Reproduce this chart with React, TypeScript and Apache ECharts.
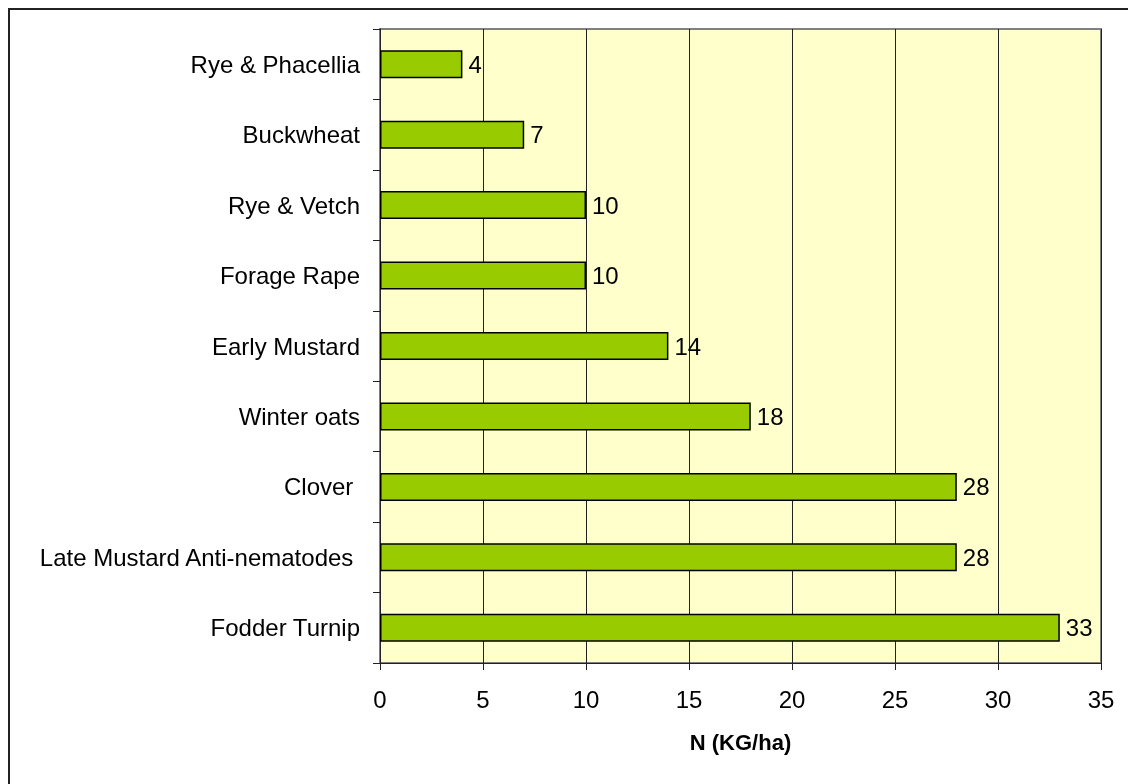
import React, { useEffect, useRef } from "react";
import * as echarts from "echarts";

// Cover crops and the nitrogen they supply
const crops = [
  "Rye & Phacellia",
  "Buckwheat",
  "Rye & Vetch",
  "Forage Rape",
  "Early Mustard",
  "Winter oats",
  "Clover ",
  "Late Mustard Anti-nematodes ",
  "Fodder Turnip",
];
const nitrogen = [4, 7, 10, 10, 14, 18, 28, 28, 33];
const xAxisTitle = "N (KG/ha)";

const FONT = "'Liberation Sans', Arial, sans-serif";

export default function App() {
  const ref = useRef<HTMLDivElement>(null);

  useEffect(() => {
    if (!ref.current) return;
    const chart = echarts.init(ref.current, undefined, { renderer: "svg" });
    chart.setOption({
      animation: false,
      textStyle: { fontFamily: FONT },
      grid: {
        left: 370,
        top: 19,
        width: 721,
        height: 634,
        show: true,
        backgroundColor: "#FFFFCC",
        borderColor: "#808080",
        borderWidth: 2,
      },
      xAxis: {
        type: "value",
        min: 0,
        max: 35,
        interval: 5,
        name: xAxisTitle,
        nameLocation: "middle",
        nameGap: 68,
        nameTextStyle: {
          fontFamily: FONT,
          fontSize: 22,
          fontWeight: "bold",
          color: "#000",
        },
        axisLine: { show: true, lineStyle: { color: "#222", width: 1 } },
        axisTick: { show: true, length: 7, lineStyle: { color: "#222" } },
        axisLabel: { fontFamily: FONT, fontSize: 24, color: "#000", margin: 24 },
        splitLine: { show: true, lineStyle: { color: "#222", width: 1 } },
      },
      yAxis: {
        type: "category",
        data: crops,
        inverse: true,
        axisLine: { show: true, lineStyle: { color: "#222", width: 1 } },
        axisTick: { show: true, length: 7, lineStyle: { color: "#222" } },
        axisLabel: { fontFamily: FONT, fontSize: 24, color: "#000", margin: 20 },
        splitLine: { show: false },
      },
      series: [
        {
          type: "bar",
          data: nitrogen,
          barWidth: 28,
          itemStyle: { color: "#99CC00", borderColor: "#000", borderWidth: 1.5 },
          label: {
            show: true,
            position: "right",
            distance: 6,
            fontFamily: FONT,
            fontSize: 24,
            color: "#000",
          },
        },
      ],
    });
    return () => chart.dispose();
  }, []);

  return (
    <div style={{ position: "relative", width: 1112, height: 768, background: "#fff" }}>
      {/* frame around the chart; its right and bottom sides fall outside the page */}
      <div
        style={{
          position: "fixed",
          left: 8,
          top: 8,
          width: 1300,
          height: 1000,
          borderLeft: "2px solid #222",
          borderTop: "2px solid #222",
          pointerEvents: "none",
        }}
      />
      <div ref={ref} style={{ position: "absolute", left: 2, top: 2, width: 1110, height: 766 }} />
    </div>
  );
}
